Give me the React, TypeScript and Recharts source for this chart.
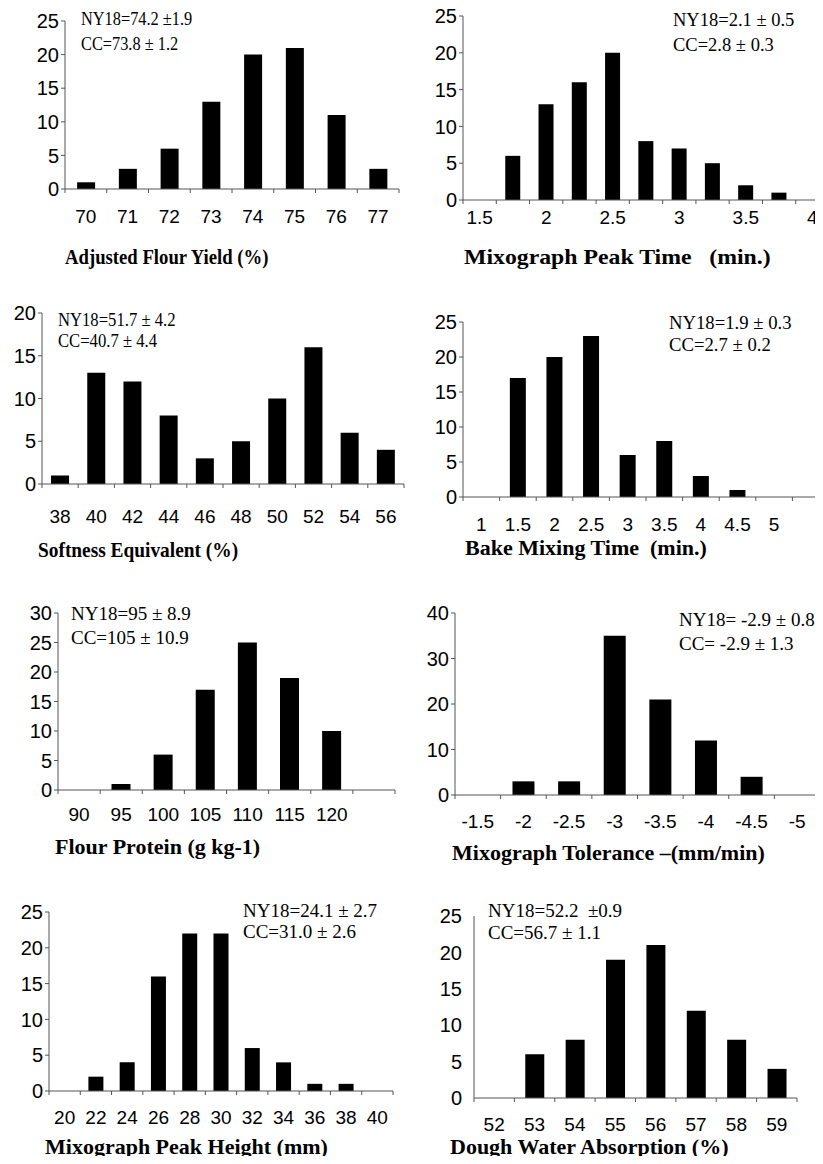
import { Bar, BarChart, XAxis, YAxis } from 'recharts';

const SANS = '"Liberation Sans", Arial, sans-serif';
const SERIF = '"Liberation Serif", "Times New Roman", serif';
const AXIS = '#555';

// number of lines in each class
const yieldLabels = ['70', '71', '72', '73', '74', '75', '76', '77'];
const yieldCounts = [1, 3, 6, 13, 20, 21, 11, 3];

const peakTimeLabels = ['1.5', '', '2', '', '2.5', '', '3', '', '3.5', '', '4'];
const peakTimeCounts = [0, 6, 13, 16, 20, 8, 7, 5, 2, 1, 0];

const softnessLabels = ['38', '40', '42', '44', '46', '48', '50', '52', '54', '56'];
const softnessCounts = [1, 13, 12, 8, 3, 5, 10, 16, 6, 4];

const bakeLabels = ['1', '1.5', '2', '2.5', '3', '3.5', '4', '4.5', '5', ''];
const bakeCounts = [0, 17, 20, 23, 6, 8, 3, 1, 0, 0];

const proteinLabels = ['90', '95', '100', '105', '110', '115', '120', ''];
const proteinCounts = [0, 1, 6, 17, 25, 19, 10, 0];

const toleranceLabels = ['-1.5', '-2', '-2.5', '-3', '-3.5', '-4', '-4.5', '-5'];
const toleranceCounts = [0, 3, 3, 35, 21, 12, 4, 0];

const heightLabels = ['20', '22', '24', '26', '28', '30', '32', '34', '36', '38', '40'];
const heightCounts = [0, 2, 4, 16, 22, 22, 6, 4, 1, 1, 0];

const absorptionLabels = ['52', '53', '54', '55', '56', '57', '58', '59'];
const absorptionCounts = [0, 6, 8, 19, 21, 12, 8, 4];

const ticks25 = [0, 5, 10, 15, 20, 25];
const ticks20 = [0, 5, 10, 15, 20];
const ticks30 = [0, 5, 10, 15, 20, 25, 30];
const ticks40 = [0, 10, 20, 30, 40];

interface PanelProps {
    labels: string[];
    counts: number[];
    yTicks: number[];
    left: number;
    top: number;
    width: number;
    height: number;
    x0: number;
    x1: number;
    y0: number;
    yTop: number;
    gap: string;
    labelOffset: number;
    yTickLine?: boolean;
    title: string;
    titleX: number;
    titleY: number;
    titleScale?: number;
    notes: string[];
    noteX: number;
    noteY: number[];
    noteSize: number;
    noteScale?: number;
}

const YW = 40;

const Panel = (p: PanelProps) => {
    const rows = p.counts.map((n, k) => ({k, n}));
    const yMax = p.yTicks[p.yTicks.length - 1];
    const showYTick = p.yTickLine !== false;
    const n = p.labels.length;

    // label in the middle of the class, tick marks on the class boundaries
    const bandTick = (props: any) => {
        const {x, y, payload, index} = props;
        const half = payload?.offset || (p.x1 - p.x0) / (2 * n);
        const axisY = y - p.labelOffset;
        return (
            <g>
                <line x1={x - half} x2={x - half} y1={axisY} y2={axisY + 4} stroke={AXIS}/>
                {index === n - 1 && (
                    <line x1={x + half} x2={x + half} y1={axisY} y2={axisY + 4} stroke={AXIS}/>
                )}
                <text x={x} y={y} dy="0.71em" textAnchor="middle" fontSize={19} fill="#000" fontFamily={SANS}>
                    {p.labels[payload.value]}
                </text>
            </g>
        );
    };

    return (
        <>
            <div style={{position: 'absolute', left: p.left, top: p.top}}>
                <BarChart
                    width={p.width}
                    height={p.height}
                    data={rows}
                    barCategoryGap={p.gap}
                    margin={{
                        top: p.yTop - p.top,
                        left: p.x0 - p.left - YW,
                        right: p.left + p.width - p.x1,
                        bottom: p.top + p.height - p.y0 - 1,
                    }}
                >
                    <XAxis
                        dataKey="k"
                        type="category"
                        height={1}
                        interval={0}
                        axisLine={{stroke: AXIS}}
                        tickLine={false}
                        tickSize={0}
                        tickMargin={p.labelOffset}
                        tick={bandTick}
                    />
                    <YAxis
                        type="number"
                        domain={[0, yMax]}
                        ticks={p.yTicks}
                        allowDataOverflow
                        width={YW}
                        interval={0}
                        tickSize={4}
                        tickMargin={showYTick ? 2 : 8}
                        axisLine={{stroke: AXIS}}
                        tickLine={showYTick ? {stroke: AXIS} : false}
                        tick={{fontSize: 20, fill: '#000', fontFamily: SANS}}
                    />
                    <Bar dataKey="n" fill="#000" isAnimationActive={false}/>
                </BarChart>
            </div>
            <div
                style={{
                    position: 'absolute',
                    left: p.titleX,
                    top: p.titleY - 11,
                    fontFamily: SERIF,
                    fontWeight: 'bold',
                    fontSize: 22,
                    lineHeight: '22px',
                    whiteSpace: 'pre',
                    transform: `scaleX(${p.titleScale ?? 1})`,
                    transformOrigin: 'left center',
                }}
            >
                {p.title}
            </div>
            {p.notes.map((t, i) => (
                <div
                    key={i}
                    style={{
                        position: 'absolute',
                        left: p.noteX,
                        top: p.noteY[i] - p.noteSize / 2,
                        fontFamily: SERIF,
                        fontSize: p.noteSize,
                        lineHeight: `${p.noteSize}px`,
                        whiteSpace: 'pre',
                        transform: `scaleX(${p.noteScale ?? 1})`,
                        transformOrigin: 'left center',
                    }}
                >
                    {t}
                </div>
            ))}
        </>
    );
};

export default function App() {
    return (
        <div
            style={{
                position: 'relative',
                width: 823,
                height: 1164,
                margin: '-8px 0 -8px -8px',
                overflow: 'hidden',
                background: '#fff',
            }}
        >
            <Panel
                labels={yieldLabels} counts={yieldCounts} yTicks={ticks25}
                left={0} top={0} width={411} height={270}
                x0={65} x1={399} y0={189} yTop={21} gap="29%" labelOffset={21}
                title="Adjusted Flour Yield (%)" titleX={65} titleY={257} titleScale={0.85}
                notes={['NY18=74.2 \u00b11.9', 'CC=73.8 \u00b1 1.2']} noteX={81} noteY={[18, 43]} noteSize={19} noteScale={0.86}
            />
            <Panel
                labels={peakTimeLabels} counts={peakTimeCounts} yTicks={ticks25}
                left={411} top={0} width={420} height={270}
                x0={463} x1={829} y0={200} yTop={16} gap="27%" labelOffset={11}
                title={'Mixograph Peak Time   (min.)'} titleX={464} titleY={257} titleScale={1.08}
                notes={['NY18=2.1 \u00b1 0.5', 'CC=2.8 \u00b1 0.3']} noteX={673} noteY={[20, 45]} noteSize={18.5}
            />
            <Panel
                labels={softnessLabels} counts={softnessCounts} yTicks={ticks20}
                left={0} top={270} width={411} height={290}
                x0={42} x1={404} y0={484} yTop={313} gap="25%" labelOffset={26}
                title="Softness Equivalent (%)" titleX={38} titleY={550} titleScale={0.88}
                notes={['NY18=51.7 \u00b1 4.2', 'CC=40.7 \u00b1 4.4']} noteX={58} noteY={[320, 341]} noteSize={18.5} noteScale={0.9}
            />
            <Panel
                labels={bakeLabels} counts={bakeCounts} yTicks={ticks25}
                left={411} top={270} width={420} height={290}
                x0={463} x1={829} y0={497} yTop={322} gap="28%" labelOffset={21}
                title={'Bake Mixing Time  (min.)'} titleX={465} titleY={548}
                notes={['NY18=1.9 \u00b1 0.3', 'CC=2.7 \u00b1 0.2']} noteX={669} noteY={[323, 345]} noteSize={18.7}
            />
            <Panel
                labels={proteinLabels} counts={proteinCounts} yTicks={ticks30}
                left={0} top={560} width={411} height={300}
                x0={58} x1={395} y0={790} yTop={613} gap="27%" labelOffset={18}
                title="Flour Protein (g kg-1)" titleX={55} titleY={847}
                notes={['NY18=95 \u00b1 8.9', 'CC=105 \u00b1 10.9']} noteX={71} noteY={[613, 637]} noteSize={19}
            />
            <Panel
                labels={toleranceLabels} counts={toleranceCounts} yTicks={ticks40}
                left={411} top={560} width={412} height={300}
                x0={455} x1={820} y0={795} yTop={613} gap="26%" labelOffset={20}
                title={'Mixograph Tolerance \u2013(mm/min)'} titleX={452} titleY={853}
                notes={['NY18= -2.9 \u00b1 0.8', 'CC= -2.9 \u00b1 1.3']} noteX={679} noteY={[619, 643]} noteSize={19}
            />
            <Panel
                labels={heightLabels} counts={heightCounts} yTicks={ticks25}
                left={0} top={860} width={411} height={304}
                x0={49} x1={393} y0={1091} yTop={912} gap="26%" labelOffset={20}
                title="Mixograph Peak Height (mm)" titleX={45} titleY={1147}
                notes={['NY18=24.1 \u00b1 2.7', 'CC=31.0 \u00b1 2.6']} noteX={243} noteY={[910, 931]} noteSize={19}
            />
            <Panel
                labels={absorptionLabels} counts={absorptionCounts} yTicks={ticks25}
                left={411} top={860} width={412} height={304}
                x0={474} x1={797} y0={1098} yTop={916} gap="27%" labelOffset={20} yTickLine={false}
                title="Dough Water Absorption (%)" titleX={450} titleY={1147}
                notes={['NY18=52.2  \u00b10.9', 'CC=56.7 \u00b1 1.1']} noteX={488} noteY={[910, 932]} noteSize={19}
            />
        </div>
    );
}
